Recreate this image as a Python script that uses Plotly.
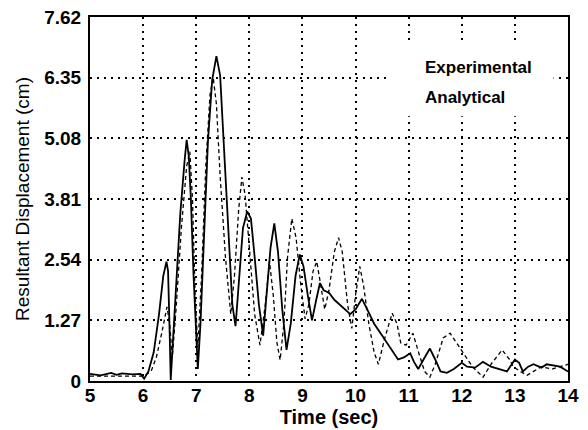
import plotly.graph_objects as go

# Experimental (solid) trace
t_exp = [5.0, 5.2, 5.4, 5.5, 5.6, 5.8, 5.95, 6.02, 6.1, 6.2, 6.3, 6.38, 6.44, 6.47, 6.5, 6.52,
         6.56, 6.62, 6.7, 6.78, 6.82, 6.86, 6.9, 6.95, 7.0, 7.03, 7.08, 7.15, 7.22, 7.3, 7.38,
         7.45, 7.52, 7.6, 7.68, 7.74, 7.8, 7.88, 7.96, 8.03, 8.1, 8.18, 8.26, 8.33, 8.4, 8.47,
         8.54, 8.62, 8.7, 8.78, 8.87, 8.95, 9.02, 9.1, 9.18, 9.26, 9.33, 9.4, 9.5, 9.6, 9.7,
         9.8, 9.9, 10.0, 10.12, 10.22, 10.35, 10.5, 10.65, 10.8, 10.92, 11.03, 11.1, 11.18,
         11.28, 11.4, 11.5, 11.6, 11.72, 11.85, 12.0, 12.1, 12.25, 12.4, 12.55, 12.7, 12.85,
         13.0, 13.08, 13.15, 13.25, 13.35, 13.5, 13.6, 13.7, 13.85, 14.0]
d_exp = [0.15, 0.12, 0.17, 0.13, 0.16, 0.14, 0.15, 0.05, 0.2, 0.6, 1.4, 2.2, 2.5, 2.3, 1.0, 0.02,
         0.8, 2.0, 3.5, 4.6, 5.05, 4.7, 3.8, 2.2, 0.9, 0.25, 1.2, 3.2, 5.0, 6.3, 6.8,
         6.4, 5.0, 3.2, 1.6, 1.15, 2.0, 3.2, 3.55, 3.4, 2.6, 1.6, 0.95, 1.8, 2.8, 3.3,
         2.7, 1.5, 0.65, 1.2, 2.2, 2.65, 2.4, 1.8, 1.27, 1.7, 2.05, 1.9, 1.85, 1.7, 1.6,
         1.5, 1.4, 1.5, 1.72, 1.5, 1.2, 0.95, 0.7, 0.45, 0.5, 0.58, 0.4, 0.25,
         0.45, 0.68, 0.45, 0.2, 0.17, 0.25, 0.38, 0.3, 0.28, 0.4, 0.3, 0.25, 0.2,
         0.45, 0.38, 0.2, 0.3, 0.35, 0.28, 0.35, 0.33, 0.3, 0.2]

# Analytical (dashed) trace
t_ana = [5.0, 5.5, 6.0, 6.15, 6.25, 6.35, 6.45, 6.5, 6.55, 6.62, 6.72, 6.82, 6.88, 6.93, 6.98,
         7.03, 7.1, 7.18, 7.26, 7.32, 7.38, 7.45, 7.55, 7.65, 7.72, 7.8, 7.86, 7.92, 8.0, 8.1,
         8.2, 8.3, 8.38, 8.45, 8.52, 8.58, 8.65, 8.72, 8.8, 8.88, 8.97, 9.05, 9.12, 9.2, 9.27,
         9.35, 9.42, 9.5, 9.6, 9.68, 9.75, 9.85, 9.93, 10.0, 10.08, 10.15, 10.25, 10.35, 10.43,
         10.55, 10.69, 10.78, 10.85, 10.95, 11.08, 11.2, 11.3, 11.4, 11.5, 11.65, 11.78, 11.9,
         12.03, 12.2, 12.4, 12.55, 12.76, 12.9, 12.97, 13.1, 13.23, 13.35, 13.5, 13.7, 13.85, 14.0]
d_ana = [0.1, 0.1, 0.1, 0.2, 0.5, 1.0, 1.55, 1.2, 0.5, 1.5, 3.2, 4.5, 4.8, 3.8, 1.8,
         0.7, 2.2, 4.5, 6.0, 6.35, 5.8, 4.3, 2.6, 1.4, 2.2, 3.6, 4.27, 3.9, 2.7, 1.4,
         0.75, 1.6, 2.5, 1.8, 0.8, 0.44, 1.2, 2.6, 3.4, 3.0, 2.0, 1.3, 1.6, 2.3, 2.5,
         2.0, 1.5, 1.9, 2.7, 3.0, 2.7, 1.6, 1.1, 1.8, 2.4, 2.0, 1.2, 0.6, 0.35,
         0.9, 1.42, 1.2, 0.8, 0.75, 1.0, 0.55, 0.2, 0.08, 0.35, 0.9, 1.0, 0.8,
         0.58, 0.3, 0.08, 0.35, 0.65, 0.45, 0.3, 0.2, 0.12, 0.2, 0.3, 0.25, 0.3, 0.35]

x_ticks = [5, 6, 7, 8, 9, 10, 11, 12, 13, 14]
y_ticks = [0, 1.27, 2.54, 3.81, 5.08, 6.35, 7.62]
y_tick_labels = ["0", "1.27", "2.54", "3.81", "5.08", "6.35", "7.62"]
legend_labels = ["Experimental", "Analytical"]

fig = go.Figure()
fig.add_trace(go.Scatter(x=t_exp, y=d_exp, mode="lines", name=legend_labels[0],
                         line=dict(color="black", width=1.8), showlegend=False))
fig.add_trace(go.Scatter(x=t_ana, y=d_ana, mode="lines", name=legend_labels[1],
                         line=dict(color="black", width=1.3, dash="4px,3px"), showlegend=False))

# legend box (covers grid like the original)
fig.add_shape(type="rect", xref="paper", yref="paper", x0=0.628, x1=0.97, y0=0.727, y1=0.923,
              fillcolor="white", line=dict(width=0), layer="above")
legend_font = dict(family="Liberation Sans", size=17, color="black", weight="bold")
fig.add_annotation(xref="paper", yref="paper", x=0.697, y=0.862, xanchor="left", yanchor="middle",
                   text=legend_labels[0], showarrow=False, font=legend_font)
fig.add_annotation(xref="paper", yref="paper", x=0.697, y=0.78, xanchor="left", yanchor="middle",
                   text=legend_labels[1], showarrow=False, font=legend_font)

tickfont = dict(family="Liberation Sans", size=19, color="black", weight="bold")
fig.update_layout(
    width=588, height=430,
    margin=dict(l=90, r=20, t=17, b=49),
    paper_bgcolor="white", plot_bgcolor="white",
    xaxis=dict(range=[5, 14], tickvals=x_ticks, ticktext=[str(v) for v in x_ticks],
               showgrid=True, gridcolor="black", gridwidth=1.5, griddash="2px,5px",
               showline=True, linecolor="black", linewidth=2, mirror=True, automargin=False,
               ticks="", tickfont=tickfont, zeroline=False, ticklabelstandoff=-4,
               title=dict(text="Time (sec)", standoff=0,
                          font=dict(family="Liberation Sans", size=20, color="black", weight="bold"))),
    yaxis=dict(range=[0, 7.62], tickvals=y_ticks, ticktext=y_tick_labels,
               showgrid=True, gridcolor="black", gridwidth=1.5, griddash="2px,5px",
               showline=True, linecolor="black", linewidth=2, mirror=True, automargin=False,
               ticks="", tickfont=tickfont, zeroline=False, ticklabelstandoff=3,
               title=dict(text="Resultant Displacement (cm)", standoff=10,
                          font=dict(family="Liberation Sans", size=19, color="black"))),
)

fig.write_html("out.html", config={"displayModeBar": False},
               post_script="document.body.style.margin='0px';")
